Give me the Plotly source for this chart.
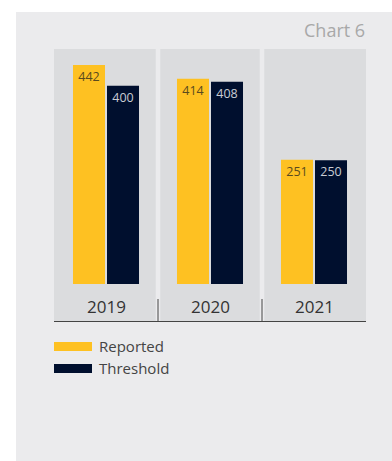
import plotly.graph_objects as go

# ---- data ----
years = ["2019", "2020", "2021"]
reported = [442, 414, 251]
threshold = [400, 408, 250]
series_names = ["Reported", "Threshold"]
chart_title = "Chart 6"

# ---- styles ----
YELLOW = "#FEC122"
NAVY = "#000F2E"
BG = "#EBEBED"
PANEL = "#DBDCDE"
FONT = "Open Sans"

W, H = 392, 461
ML, MR, MT, MB = 54, 26, 49, 140
PW = W - ML - MR
PH = H - MT - MB


def px_x(p):
    return (p - ML) / PW


def px_y(p):
    return (H - MB - p) / PH


fig = go.Figure()
fig.add_bar(
    x=years, y=reported, name=series_names[0],
    marker=dict(color=YELLOW, line=dict(width=0)),
    text=[str(v) for v in reported], textposition="inside",
    insidetextanchor="end", textangle=0,
    textfont=dict(family=FONT, size=12.5, color="#5A4A1E"),
    showlegend=False, hoverinfo="skip",
)
fig.add_bar(
    x=years, y=threshold, name=series_names[1],
    marker=dict(color=NAVY, line=dict(width=0)),
    text=[str(v) for v in threshold], textposition="inside",
    insidetextanchor="end", textangle=0,
    textfont=dict(family=FONT, size=12.5, color="#C9CCD3"),
    showlegend=False, hoverinfo="skip",
)

shapes = []
# overall grey card
shapes.append(dict(type="rect", xref="paper", yref="paper",
                   x0=px_x(16), x1=px_x(400), y0=px_y(470), y1=px_y(12),
                   fillcolor=BG, line=dict(width=0), layer="below"))
# column panels
n = len(years)
for i in range(n):
    x0 = -0.5 if i == 0 else i - 0.478
    x1 = n - 0.5 if i == n - 1 else i + 0.478
    shapes.append(dict(type="rect", xref="x", yref="y domain",
                       x0=x0, x1=x1, y0=0, y1=1,
                       fillcolor=PANEL, line=dict(width=0), layer="below"))
# separators
for i in range(n - 1):
    shapes.append(dict(type="line", xref="x", yref="paper",
                       x0=i + 0.5, x1=i + 0.5, y0=0, y1=px_y(299),
                       line=dict(color="#444444", width=1)))
# legend swatches
shapes.append(dict(type="rect", xref="paper", yref="paper",
                   x0=px_x(54), x1=px_x(92), y0=px_y(351), y1=px_y(342),
                   fillcolor=YELLOW, line=dict(width=0)))
shapes.append(dict(type="rect", xref="paper", yref="paper",
                   x0=px_x(54), x1=px_x(92), y0=px_y(373), y1=px_y(364),
                   fillcolor=NAVY, line=dict(width=0)))

annotations = []
annotations.append(dict(xref="paper", yref="paper", x=px_x(367), y=px_y(30),
                        xanchor="right", yanchor="middle", showarrow=False,
                        text=chart_title,
                        font=dict(family=FONT, size=18, color="#A8A8A8")))
for i, yr in enumerate(years):
    annotations.append(dict(xref="x", yref="paper", x=i, y=px_y(306),
                            xanchor="center", yanchor="middle", showarrow=False,
                            text=yr, font=dict(family=FONT, size=17, color="#333333")))
annotations.append(dict(xref="paper", yref="paper", x=px_x(97), y=px_y(346),
                        xanchor="left", yanchor="middle", showarrow=False,
                        text=series_names[0],
                        font=dict(family=FONT, size=15, color="#444444")))
annotations.append(dict(xref="paper", yref="paper", x=px_x(97), y=px_y(367.5),
                        xanchor="left", yanchor="middle", showarrow=False,
                        text=series_names[1],
                        font=dict(family=FONT, size=15, color="#444444")))

scale = 0.4955  # px per unit
ymax = (284 - MT) / scale
ymin = -((H - MB) - 284) / scale

fig.update_layout(
    width=W, height=H,
    margin=dict(l=ML, r=MR, t=MT, b=MB, pad=0),
    paper_bgcolor="white", plot_bgcolor="rgba(0,0,0,0)",
    barmode="group", bargap=0.346, bargroupgap=0.0588,
    xaxis=dict(type="category", range=[-0.5, n - 0.5], showticklabels=False,
               ticks="", showgrid=False, zeroline=False,
               showline=True, linecolor="#444444", linewidth=1, fixedrange=True),
    yaxis=dict(range=[ymin, ymax], visible=False, showgrid=False,
               zeroline=False, fixedrange=True),
    shapes=shapes, annotations=annotations,
    showlegend=False,
)

fig.write_html("out.html", config={"displayModeBar": False})
